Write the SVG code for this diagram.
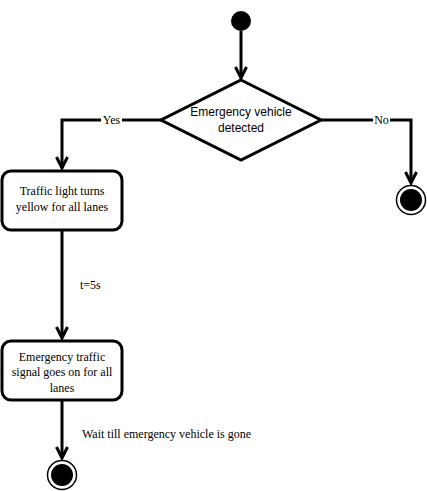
<svg xmlns="http://www.w3.org/2000/svg" width="427" height="491" viewBox="0 0 427 491">
<defs>
<style>
.n{fill:#fff;stroke:#000;stroke-width:3}
.c{fill:none;stroke:#000;stroke-width:3}
.s{font-family:"Liberation Sans",Arial,sans-serif;font-size:12px;text-anchor:middle}
.t{font-family:"Liberation Serif","Times New Roman",serif;font-size:12px;text-anchor:middle}
.l{font-family:"Liberation Serif","Times New Roman",serif;font-size:12px}
.ring{fill:#fff;stroke:#000;stroke-width:1.5}
</style>
<marker id="a" viewBox="0 0 14 14" refX="12" refY="7" markerWidth="14" markerHeight="14" markerUnits="userSpaceOnUse" orient="auto">
<path d="M1,1.5 L12,7 L1,12.5" fill="none" stroke="#000" stroke-width="3"/>
</marker>
</defs>
<rect width="427" height="491" fill="#fff"/>
<g id="connectors">
<path class="c" d="M241,31 L241,78" marker-end="url(#a)"/>
<path class="c" d="M161,120 L62,120 L62,168" marker-end="url(#a)"/>
<path class="c" d="M321,120 L411,120 L411,183" marker-end="url(#a)"/>
<path class="c" d="M62,230 L62,338" marker-end="url(#a)"/>
<path class="c" d="M62,400 L62,458" marker-end="url(#a)"/>
<rect x="101" y="114" width="21" height="12" fill="#fff"/>
<text class="l" x="111.5" y="124" text-anchor="middle">Yes</text>
<rect x="373" y="114" width="17" height="12" fill="#fff"/>
<text class="l" x="381.5" y="124" text-anchor="middle">No</text>
<text class="l" x="80" y="289">t=5s</text>
<text class="l" x="82" y="438">Wait till emergency vehicle is gone</text>
</g>
<g id="start">
<circle cx="241" cy="21" r="10" fill="#000"/>
</g>
<g id="decision">
<path class="n" d="M241,80 L321,120 L241,160 L161,120 Z"/>
<text class="s" x="241" y="116">Emergency vehicle</text>
<text class="s" x="241" y="132">detected</text>
</g>
<g id="yellow">
<rect class="n" x="2" y="171" width="120" height="59" rx="9"/>
<text class="t" x="62" y="195">Traffic light turns</text>
<text class="t" x="62" y="211">yellow for all lanes</text>
</g>
<g id="emergency">
<rect class="n" x="2" y="341" width="120" height="59" rx="9"/>
<text class="t" x="62" y="361">Emergency traffic</text>
<text class="t" x="62" y="376">signal goes on for all</text>
<text class="t" x="62" y="392">lanes</text>
</g>
<g id="end1">
<circle class="ring" cx="411" cy="200" r="14.5"/>
<circle cx="411" cy="200" r="11" fill="#000"/>
</g>
<g id="end2">
<circle class="ring" cx="62" cy="475" r="14.5"/>
<circle cx="62" cy="475" r="11" fill="#000"/>
</g>
</svg>
